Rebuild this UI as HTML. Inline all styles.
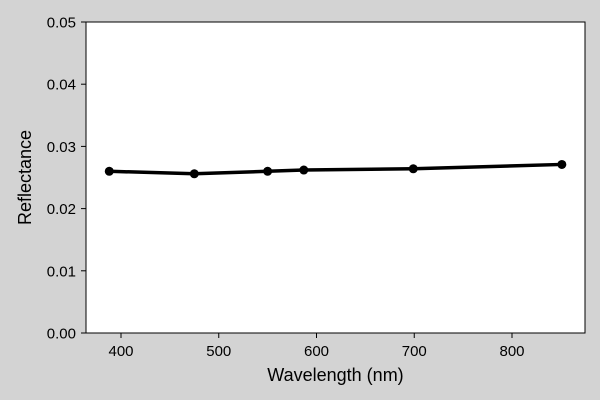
<!DOCTYPE html>
<html><head><meta charset="utf-8">
<style>
body{margin:0;background:#d3d3d3;}
svg{display:block;font-family:"Liberation Sans","DejaVu Sans",sans-serif;}
</style></head>
<body>
<svg id="chart" width="600" height="400">
  <rect x="0" y="0" width="600" height="400" fill="#d3d3d3"/>
  <rect x="86" y="22" width="499" height="311" fill="#fff" stroke="#000" stroke-width="1"/>
  <g id="xt"></g>
  <g id="yt"></g>
  <g id="series"></g>
  <text x="335.5" y="381" text-anchor="middle" font-size="18">Wavelength (nm)</text>
  <text transform="translate(31,177.5) rotate(-90)" text-anchor="middle" font-size="18">Reflectance</text>
</svg>
<script>
const wavelengths=[388,475,550,587,699,851];
const reflectance=[0.0260,0.0256,0.0260,0.0262,0.0264,0.0271];
const xTicks=[400,500,600,700,800];
const yTicks=[0.00,0.01,0.02,0.03,0.04,0.05];
const NS="http://www.w3.org/2000/svg";
function X(v){return 121+(v-400)*0.9775;}
function Y(v){return 333-v*6220;}
function mk(t,a,p){const e=document.createElementNS(NS,t);for(const k in a)e.setAttribute(k,a[k]);p.appendChild(e);return e;}
const xt=document.getElementById('xt'),yt=document.getElementById('yt'),s=document.getElementById('series');
xTicks.forEach(v=>{
 const l=mk('line',{x1:X(v),x2:X(v),y1:333,y2:338,stroke:'#000'},xt);
 
 
 const t=mk('text',{x:X(v),y:356,'text-anchor':'middle','font-size':15},xt);
 t.textContent=v;
 
 
});
yTicks.forEach(v=>{
 const l=mk('line',{x1:81,x2:86,y1:Y(v),y2:Y(v),stroke:'#000'},yt);
 
 
 const t=mk('text',{x:76,y:Y(v)+5.5,'text-anchor':'end','font-size':15},yt);
 t.textContent=v.toFixed(2);
 
 
});
const pl=mk('polyline',{points:wavelengths.map((w,i)=>X(w)+','+Y(reflectance[i])).join(' '),fill:'none',stroke:'#000','stroke-width':3.5},s);


wavelengths.forEach((w,i)=>{
 const c=mk('circle',{cx:X(w),cy:Y(reflectance[i]),r:4.5,fill:'#000'},s);
 
 
});
</script>
</body></html>
